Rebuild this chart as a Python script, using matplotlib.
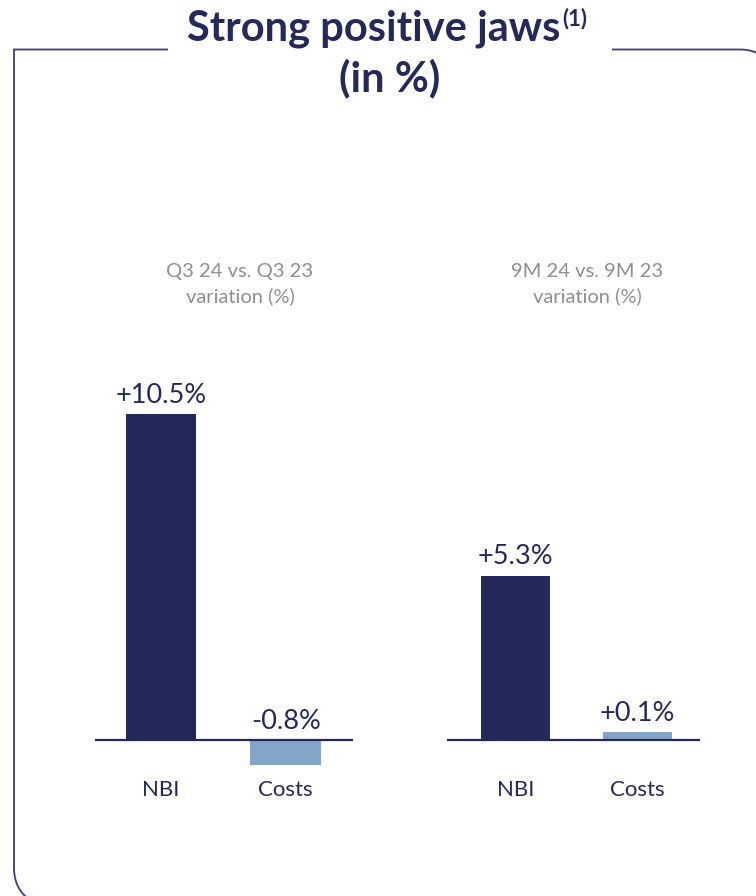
import matplotlib
matplotlib.use("Agg")
import matplotlib.pyplot as plt
from matplotlib.path import Path
from matplotlib.patches import PathPatch

# ---- data ----
categories = ["NBI", "Costs"]
q3_values = [10.5, -0.8]
m9_values = [5.3, 0.25]          # bar heights as drawn in the reference
q3_labels = ["+10.5%", "-0.8%"]
m9_labels = ["+5.3%", "+0.1%"]
panel_titles = ["Q3 24 vs. Q3 23\nvariation (%)", "9M 24 vs. 9M 23\nvariation (%)"]

NAVY = "#24295B"
LIGHT = "#85A5C8"
GREY = "#8E8E8E"
FRAME = "#3B4072"
FONT = "Lato"

W, H = 756, 896
fig = plt.figure(figsize=(W / 100, H / 100), dpi=100)
fig.patch.set_facecolor("white")

# overlay axes in pixel coords for frame
bg = fig.add_axes([0, 0, 1, 1])
bg.set_xlim(0, W)
bg.set_ylim(H, 0)
bg.axis("off")

verts = [(168, 49.5), (14, 49.5), (14, 868), (14, 896), (42, 906)]
codes = [Path.MOVETO, Path.LINETO, Path.LINETO, Path.CURVE3, Path.CURVE3]
bg.add_patch(PathPatch(Path(verts, codes), fill=False, edgecolor=FRAME, lw=1.3, capstyle="butt"))
verts2 = [(612, 49.5), (740, 49.5), (768, 49.5), (778, 78)]
codes2 = [Path.MOVETO, Path.LINETO, Path.CURVE3, Path.CURVE3]
bg.add_patch(PathPatch(Path(verts2, codes2), fill=False, edgecolor=FRAME, lw=1.3, capstyle="butt"))

# title
t = bg.text(374, 29, "Strong positive jaws", ha="center", va="center",
            fontsize=30, fontweight="bold", color=NAVY, family=FONT)
fig.canvas.draw()
bb = t.get_window_extent()
x_right = bb.x1
bg.text(x_right + 2, 19, "(1)", ha="left", va="center", fontsize=16,
        fontweight="bold", color=NAVY, family=FONT)
bg.text(390, 78, "(in %)", ha="center", va="center", fontsize=30,
        fontweight="bold", color=NAVY, family=FONT)

def px_axes(x0, x1, y_top, y_bot):
    return fig.add_axes([x0 / W, 1 - y_bot / H, (x1 - x0) / W, (y_bot - y_top) / H])

panels = [
    (95, 353, (-0.53, 1.54), q3_values, q3_labels, panel_titles[0], 240),
    (447, 700, (-0.56, 1.51), m9_values, m9_labels, panel_titles[1], 587),
]
ylim = (-1.94, 11.61)
for x0, x1, xl, vals, labs, ptitle, tx in panels:
    ax = px_axes(x0, x1, 380, 800)
    ax.set_xlim(*xl)
    ax.set_ylim(*ylim)
    ax.axis("off")
    ax.bar([0, 1], vals, width=0.565, color=[NAVY, LIGHT], zorder=2)
    ax.axhline(0, color=NAVY, lw=1.6, zorder=3)
    for i, (v, lab) in enumerate(zip(vals, labs)):
        ax.text(i, max(v, 0) + 0.2, lab, ha="center", va="bottom",
                fontsize=19.5, color=NAVY, family=FONT)
        ax.text(i, -1.62, categories[i], ha="center", va="center",
                fontsize=16, color=NAVY, family=FONT)
    bg.text(tx, 284, ptitle, ha="center", va="center", fontsize=14.5,
            color=GREY, family=FONT, linespacing=1.45)

fig.savefig("out.png", dpi=100)
